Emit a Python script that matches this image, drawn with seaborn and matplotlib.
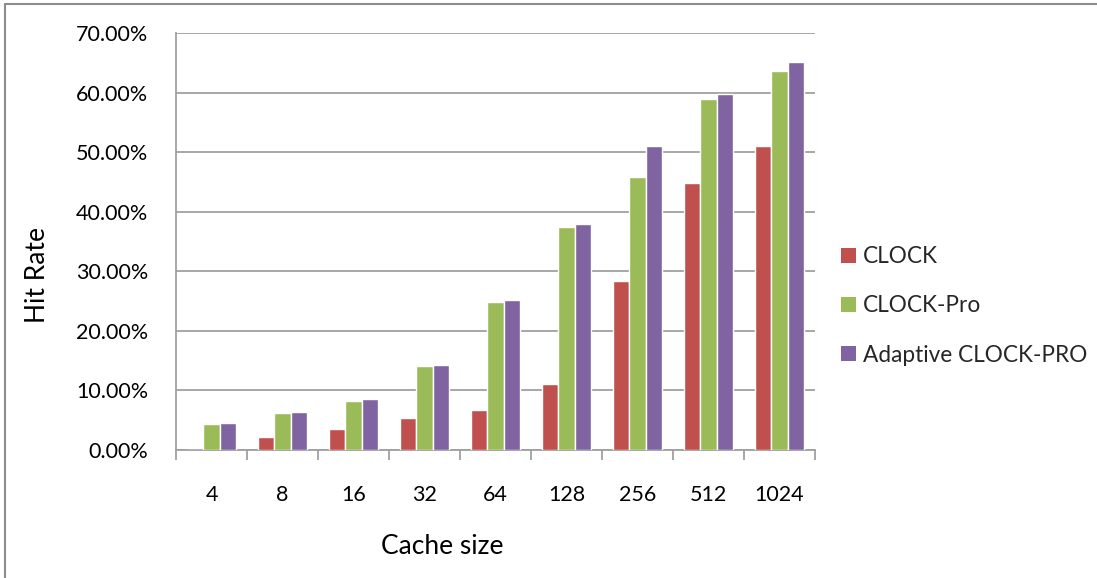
import matplotlib
matplotlib.use("Agg")
import matplotlib.pyplot as plt
from matplotlib.lines import Line2D
from matplotlib.patches import Patch
from matplotlib.ticker import FuncFormatter, MultipleLocator, FixedLocator
import numpy as np
import pandas as pd
import seaborn as sns

# Hit rate (%) for each cache size and replacement policy
cache_sizes = ["4", "8", "16", "32", "64", "128", "256", "512", "1024"]
clock = [0.0, 2.1, 3.6, 5.4, 6.65, 11.1, 28.3, 44.8, 51.0]
clock_pro = [4.4, 6.2, 8.3, 14.1, 24.9, 37.4, 45.8, 58.85, 63.7]
adaptive_clock_pro = [4.55, 6.4, 8.5, 14.3, 25.25, 37.9, 51.0, 59.7, 65.1]
series_names = ["CLOCK", "CLOCK-Pro", "Adaptive CLOCK-PRO"]
colors = ["#C0504D", "#9BBB59", "#8064A2"]

rows = []
for name, vals in zip(series_names, [clock, clock_pro, adaptive_clock_pro]):
    for size, v in zip(cache_sizes, vals):
        rows.append({"Cache size": size, "Hit Rate": v, "Policy": name})
df = pd.DataFrame(rows)

sns.set_theme(style="white")
plt.rcParams["font.family"] = ["Lato", "DejaVu Sans"]

W, H = 1097, 578
fig = plt.figure(figsize=(W / 100, H / 100), dpi=100)
ax = fig.add_axes([176 / W, 1 - 450 / H, (815 - 176) / W, (450 - 33) / H])

sns.barplot(data=df, x="Cache size", y="Hit Rate", hue="Policy",
            order=cache_sizes, hue_order=series_names, palette=colors,
            width=0.68, saturation=1, ax=ax, legend=False, zorder=3)

grid_c = "#A0A0A0"
ax.set_ylim(0, 70)
ax.set_xlim(-0.5, len(cache_sizes) - 0.5)
ax.yaxis.set_major_locator(MultipleLocator(10))
ax.yaxis.set_major_formatter(FuncFormatter(lambda v, p: f"{v:.2f}%"))
ax.grid(axis="y", color=grid_c, linewidth=1.3, zorder=0)
ax.set_axisbelow(True)

for s in ["top", "right"]:
    ax.spines[s].set_visible(False)
for s in ["left", "bottom"]:
    ax.spines[s].set_color(grid_c)
    ax.spines[s].set_linewidth(1.3)

# Category boundaries carry the x tick marks; labels sit at the group centres
ax.xaxis.set_minor_locator(FixedLocator(np.arange(-0.5, len(cache_sizes), 1.0)))
ax.tick_params(axis="x", which="major", length=0, pad=25, labelsize=15.5, colors="black")
ax.tick_params(axis="x", which="minor", length=7, width=1.3, color=grid_c, direction="out")
ax.tick_params(axis="y", which="major", length=7, width=1.3, color=grid_c,
               direction="out", pad=13, labelsize=15.5, labelcolor="black")
ax.tick_params(axis="x", which="both", bottom=True)

ax.set_xlabel("Cache size", fontsize=19, color="black")
ax.set_ylabel("Hit Rate", fontsize=19, color="black")
# Axis titles placed in figure pixel terms, converted to axes coordinates
ax_x0, ax_x1, ax_y0, ax_y1 = 176, 815, 450, 33
ax.xaxis.set_label_coords((442 - ax_x0) / (ax_x1 - ax_x0), -(547 - ax_y0) / (ax_y0 - ax_y1))
ax.xaxis.label.set_va("center")
ax.yaxis.set_label_coords((38 - ax_x0) / (ax_x1 - ax_x0), (ax_y0 - 275) / (ax_y0 - ax_y1))
ax.yaxis.label.set_va("center")

handles = [Patch(facecolor=c, edgecolor="none") for c in colors]
fig.legend(handles, series_names, loc="center left",
           bbox_to_anchor=(841 / W, 1 - 306 / H), frameon=False,
           fontsize=16.3, handlelength=0.66, handleheight=0.66, handletextpad=0.3,
           labelspacing=1.25, borderaxespad=0, borderpad=0)

# Chart frame lines along the top and left edges
fig.add_artist(Line2D([5 / W, 1.0], [1 - 4 / H, 1 - 4 / H], color="#8C8C8C",
                      linewidth=1.5, transform=fig.transFigure))
fig.add_artist(Line2D([5 / W, 5 / W], [0.0, 1 - 4 / H], color="#8C8C8C",
                      linewidth=1.5, transform=fig.transFigure))

fig.savefig("out.png", dpi=100, facecolor="white")
